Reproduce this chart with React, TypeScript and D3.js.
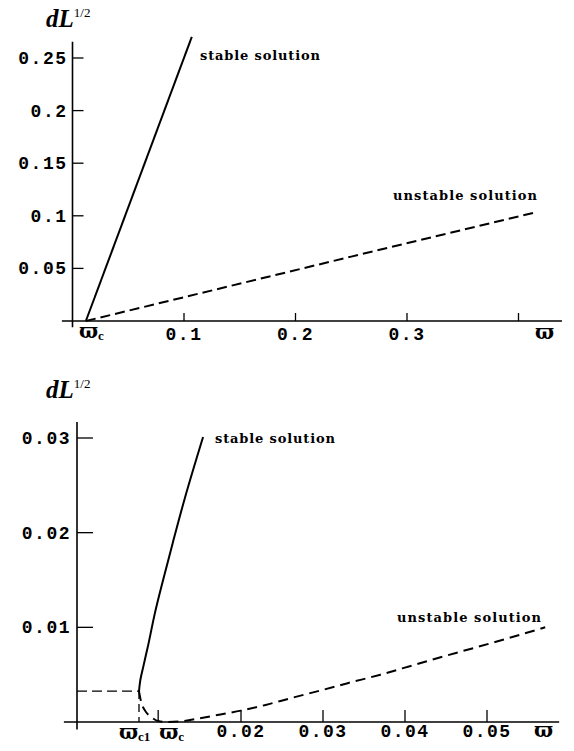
import React from "react";
import * as d3 from "d3";

// ---------- data ----------
const topStable: [number, number][] = [
  [0.012, 0],
  [0.107, 0.27],
];
const topUnstable: [number, number][] = [
  [0.012, 0],
  [0.1143, 0.0263],
  [0.25, 0.0612],
  [0.4166, 0.1036],
];
const topXTicks = [0.1, 0.2, 0.3, 0.4];
const topXTickLabels = ["0.1", "0.2", "0.3", ""];
const topYTicks = [0.05, 0.1, 0.15, 0.2, 0.25];
const topYTickLabels = ["0.05", "0.1", "0.15", "0.2", "0.25"];
const topOmegaC = 0.012;

const botStable: [number, number][] = [
  [0.00756, 0.00327],
  [0.0077, 0.0043],
  [0.0081, 0.0059],
  [0.0087, 0.0082],
  [0.0095, 0.0115],
  [0.0105, 0.015],
  [0.0117, 0.019],
  [0.0132, 0.0238],
  [0.01537, 0.0301],
];
const botUnstable: [number, number][] = [
  [0.00756, 0.00327],
  [0.0078, 0.0022],
  [0.0083, 0.0012],
  [0.0091, 0.0005],
  [0.0099, 0.0001],
  [0.011, 0.0],
  [0.013, 0.0001],
  [0.015, 0.0004],
  [0.0175, 0.0008],
  [0.02, 0.0012],
  [0.023, 0.0018],
  [0.026, 0.0025],
  [0.03, 0.0034],
  [0.033, 0.0041],
  [0.037, 0.005],
  [0.041, 0.006],
  [0.045, 0.007],
  [0.0512, 0.0085],
  [0.0571, 0.01],
];
const botXTicks = [0.0099, 0.02, 0.03, 0.04, 0.05];
const botXTickLabels = ["", "0.02", "0.03", "0.04", "0.05"];
const botYTicks = [0.01, 0.02, 0.03];
const botYTickLabels = ["0.01", "0.02", "0.03"];
const botOmegaC1 = 0.00756;
const botOmegaC = 0.0099;
const botFoldY = 0.00327;

// ---------- scales ----------
const xTop = d3.scaleLinear().domain([0, 0.4]).range([72.5, 518.5]);
const yTop = d3.scaleLinear().domain([0, 0.25]).range([321, 58]);
const xBot = d3.scaleLinear().domain([0, 0.05]).range([77, 487]);
const yBot = d3.scaleLinear().domain([0, 0.03]).range([722, 438]);

const mono = "'Liberation Mono', 'DejaVu Sans Mono', monospace";
const serif = "'Liberation Serif', 'DejaVu Serif', serif";
const omegaFont = "'DejaVu Serif', 'Liberation Serif', serif";
const labelSerif = "'DejaVu Serif', 'Liberation Serif', serif";

function Omega({ x, y, sub }: { x: number; y: number; sub: string }) {
  return (
    <text x={x} y={y} fontFamily={omegaFont} fontSize={20} fontWeight="bold">
      ϖ
      <tspan fontFamily={serif} fontSize={13} dy={2}>
        {sub}
      </tspan>
    </text>
  );
}

function DL({ x, y }: { x: number; y: number }) {
  return (
    <text x={x} y={y} fontFamily={serif} fontSize={25} fontWeight="bold" fontStyle="italic">
      dL
      <tspan fontSize={13} dy={-10} fontStyle="normal" fontWeight="normal">
        1/2
      </tspan>
    </text>
  );
}

export default function App() {
  const lineTop = d3
    .line<[number, number]>()
    .x((d) => xTop(d[0]))
    .y((d) => yTop(d[1]));
  const lineBotStable = d3
    .line<[number, number]>()
    .x((d) => xBot(d[0]))
    .y((d) => yBot(d[1]))
    .curve(d3.curveMonotoneY);
  const lineBotUnst = d3
    .line<[number, number]>()
    .x((d) => xBot(d[0]))
    .y((d) => yBot(d[1]))
    .curve(d3.curveMonotoneX);

  const tickText = {
    fontFamily: mono,
    fontSize: 18,
    fontWeight: "bold" as const,
    letterSpacing: 1.5,
  };

  return (
    <svg
      width={574}
      height={751}
      style={{ position: "absolute", left: 0, top: 0, background: "#fff" }}
    >
      {/* ---------------- TOP CHART ---------------- */}
      <DL x={46} y={27} />
      <line x1={xTop(-0.0095)} x2={xTop(0.439)} y1={yTop(0)} y2={yTop(0)} stroke="#000" strokeWidth={1.6} />
      <line x1={xTop(0)} x2={xTop(0)} y1={yTop(0.2655)} y2={yTop(-0.006)} stroke="#000" strokeWidth={1.6} />
      {topYTicks.map((t, i) => (
        <g key={"ty" + i}>
          <line x1={xTop(0)} x2={xTop(0) + 11} y1={yTop(t)} y2={yTop(t)} stroke="#000" strokeWidth={1.3} />
          <text x={xTop(0) - 5} y={yTop(t) + 6} textAnchor="end" {...tickText}>
            {topYTickLabels[i]}
          </text>
        </g>
      ))}
      {topXTicks.map((t, i) => (
        <g key={"tx" + i}>
          <line x1={xTop(t)} x2={xTop(t)} y1={yTop(0)} y2={yTop(0) - 8} stroke="#000" strokeWidth={1.3} />
          <text x={xTop(t)} y={340} textAnchor="middle" {...tickText}>
            {topXTickLabels[i]}
          </text>
        </g>
      ))}
      <Omega x={xTop(topOmegaC) - 7} y={338} sub="c" />
      <text x={535} y={339} fontFamily={omegaFont} fontSize={20} fontWeight="bold">
        ϖ
      </text>
      <path d={lineTop(topStable) ?? ""} fill="none" stroke="#000" strokeWidth={2} />
      <path d={lineTop(topUnstable) ?? ""} fill="none" stroke="#000" strokeWidth={2} strokeDasharray="10 5" />
      <text x={200} y={60} fontFamily={labelSerif} fontSize={13} fontWeight="bold" textLength={120}>
        stable solution
      </text>
      <text x={393} y={200} fontFamily={labelSerif} fontSize={13} fontWeight="bold" textLength={144}>
        unstable solution
      </text>

      {/* ---------------- BOTTOM CHART ---------------- */}
      <DL x={46} y={398} />
      <line x1={xBot(-0.0016)} x2={xBot(0.0588)} y1={yBot(0)} y2={yBot(0)} stroke="#000" strokeWidth={1.6} />
      <line x1={xBot(0)} x2={xBot(0)} y1={yBot(0.0317)} y2={yBot(-0.0008)} stroke="#000" strokeWidth={1.6} />
      {botYTicks.map((t, i) => (
        <g key={"by" + i}>
          <line x1={xBot(0)} x2={xBot(0) + 16} y1={yBot(t)} y2={yBot(t)} stroke="#000" strokeWidth={1.3} />
          <text x={xBot(0) - 6} y={yBot(t) + 6} textAnchor="end" {...tickText}>
            {botYTickLabels[i]}
          </text>
        </g>
      ))}
      {botXTicks.map((t, i) => (
        <g key={"bx" + i}>
          <line x1={xBot(t)} x2={xBot(t)} y1={yBot(0)} y2={yBot(0) - 12} stroke="#000" strokeWidth={1.3} />
          <text x={xBot(t)} y={737} textAnchor="middle" {...tickText}>
            {botXTickLabels[i]}
          </text>
        </g>
      ))}
      <Omega x={xBot(botOmegaC1) - 20} y={739} sub="c1" />
      <Omega x={xBot(botOmegaC) + 1} y={739} sub="c" />
      <text x={534} y={737} fontFamily={omegaFont} fontSize={20} fontWeight="bold">
        ϖ
      </text>
      <line
        x1={xBot(0)}
        x2={xBot(botOmegaC1)}
        y1={yBot(botFoldY)}
        y2={yBot(botFoldY)}
        stroke="#000"
        strokeWidth={1.3}
        strokeDasharray="10 5"
      />
      <line
        x1={xBot(botOmegaC1)}
        x2={xBot(botOmegaC1)}
        y1={yBot(botFoldY)}
        y2={yBot(0)}
        stroke="#000"
        strokeWidth={1.3}
        strokeDasharray="8 5"
      />
      <path d={lineBotStable(botStable) ?? ""} fill="none" stroke="#000" strokeWidth={2} />
      <path d={lineBotUnst(botUnstable) ?? ""} fill="none" stroke="#000" strokeWidth={2} strokeDasharray="10 6" />
      <text x={215} y={443} fontFamily={labelSerif} fontSize={13} fontWeight="bold" textLength={120}>
        stable solution
      </text>
      <text x={397} y={622} fontFamily={labelSerif} fontSize={13} fontWeight="bold" textLength={144}>
        unstable solution
      </text>
    </svg>
  );
}
